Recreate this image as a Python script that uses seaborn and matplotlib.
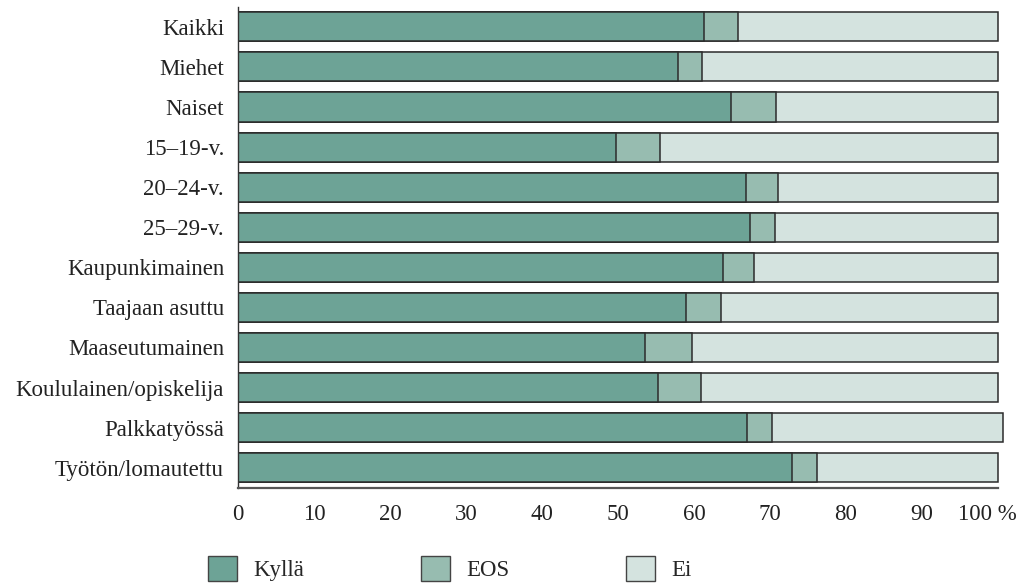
import matplotlib
matplotlib.use("Agg")
import matplotlib.pyplot as plt
import matplotlib.transforms as mtrans
from matplotlib.patches import Patch
import pandas as pd
import seaborn as sns

sns.set_theme(style="white")
plt.rcParams['font.family'] = ['Liberation Serif', 'DejaVu Serif']

groups = ['Kaikki', 'Miehet', 'Naiset', '15–19-v.', '20–24-v.', '25–29-v.',
          'Kaupunkimainen', 'Taajaan asuttu', 'Maaseutumainen',
          'Koululainen/opiskelija', 'Palkkatyössä', 'Työtön/lomautettu']
kylla = [61.3, 57.9, 64.9, 49.7, 66.8, 67.4, 63.8, 58.9, 53.6, 55.3, 67.0, 72.9]
eos = [4.5, 3.2, 5.9, 5.8, 4.3, 3.3, 4.1, 4.7, 6.1, 5.6, 3.3, 3.3]
ei = [34.2, 38.9, 29.2, 44.5, 28.9, 29.3, 32.1, 36.4, 40.3, 39.1, 30.3, 23.8]

series = ['Kyllä', 'EOS', 'Ei']
colors = ['#6da396', '#97bcb0', '#d4e3df']
xticks = [0, 10, 20, 30, 40, 50, 60, 70, 80, 90, 100]
xticklabels = ['0', '10', '20', '30', '40', '50', '60', '70', '80', '90', '100 %']

df = pd.DataFrame({'ryhma': groups, 'Kyllä': kylla, 'EOS': eos, 'Ei': ei})
# kumulatiiviset summat pinottuja palkkeja varten
df['c_kylla'] = df['Kyllä']
df['c_eos'] = df['Kyllä'] + df['EOS']
df['c_ei'] = df['Kyllä'] + df['EOS'] + df['Ei']

fs = 16.5
px = 7.6  # pikseliä / prosenttiyksikkö
fig = plt.figure(figsize=(10.23, 5.85), dpi=100)
ax = fig.add_axes([238 / 1023, 1 - 487.7 / 585, 101 * px / 1023, 480.9 / 585])

for col, c in zip(['c_ei', 'c_eos', 'c_kylla'], colors[::-1]):
    sns.barplot(data=df, x=col, y='ryhma', color=c, saturation=1, width=0.725,
                edgecolor='#2b2b2b', linewidth=1.1, ax=ax)

ax.set_xlim(0, 101)
ax.set_ylim(len(groups) - 0.5, -0.5)
ax.set_xlabel('')
ax.set_ylabel('')
ax.set_xticks(xticks)
ax.set_xticklabels(xticklabels)
ax.tick_params(axis='both', length=0, labelsize=fs, colors='#222222')
ax.tick_params(axis='x', pad=12)
ax.tick_params(axis='y', pad=10)

for s in ['top', 'right']:
    ax.spines[s].set_visible(False)
ax.spines['left'].set_color('#333333')
ax.spines['left'].set_linewidth(1.0)
ax.spines['bottom'].set_color('#555555')
ax.spines['bottom'].set_linewidth(1.6)
ax.spines['bottom'].set_bounds(0, 100)

# "100 %" hieman vasemmalle
lab = ax.xaxis.get_major_ticks()[-1].label1
lab.set_transform(lab.get_transform() + mtrans.ScaledTranslation(-11 / 100, 0, fig.dpi_scale_trans))

handles = [Patch(facecolor=c, edgecolor='#444444', linewidth=1.0, label=l)
           for c, l in zip(colors, series)]
fig.legend(handles=handles, loc='upper left', bbox_to_anchor=(208 / 1023, 1 - 556 / 585),
           ncol=3, frameon=False, fontsize=fs, handlelength=1.27, handleheight=1.3,
           handletextpad=0.7, columnspacing=5.1, borderpad=0, borderaxespad=0)

fig.savefig('out.png', dpi=100)
